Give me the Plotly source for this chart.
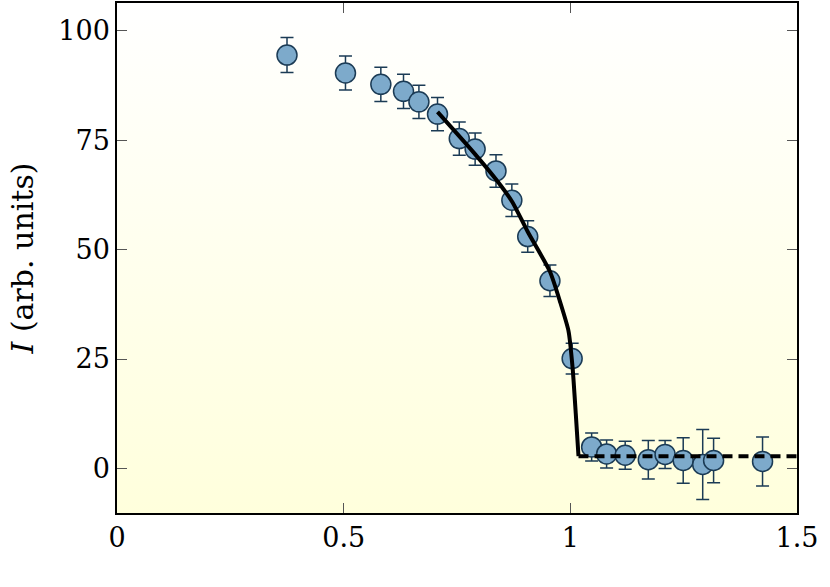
import plotly.graph_objects as go

# measured points
x_data = [0.375, 0.504, 0.582, 0.632, 0.666, 0.707, 0.755, 0.790, 0.836, 0.871,
          0.906, 0.955, 1.004, 1.047, 1.080, 1.121, 1.172, 1.209, 1.249, 1.292,
          1.316, 1.424]
y_data = [94.5, 90.4, 87.8, 86.2, 83.8, 81.0, 75.4, 73.0, 68.0, 61.3,
          53.0, 42.9, 25.1, 4.9, 3.3, 3.0, 2.0, 3.2, 1.8, 0.9,
          1.8, 1.6]
y_err = [4.0, 3.9, 3.9, 3.9, 3.8, 3.8, 3.8, 3.7, 3.7, 3.7,
         3.6, 3.6, 3.5, 3.2, 3.2, 3.2, 4.4, 3.2, 5.2, 8.0,
         5.1, 5.6]

# fit curve (below transition) and background level (above)
x_fit = [0.707, 0.786, 0.838, 0.872, 0.906, 0.955, 0.977, 0.996, 1.005, 1.012, 1.018]
y_fit = [81.5, 72.3, 65.8, 60.9, 54.1, 45.0, 38.2, 31.4, 23.0, 12.5, 2.8]
x_bg = [1.018, 1.5]
y_bg = [2.8, 2.8]

x_range = [0, 1.5]
y_range = [-10.2, 106.4]

fig = go.Figure()

# gradient panel background
fig.add_trace(go.Scatter(
    x=[x_range[0], x_range[1], x_range[1], x_range[0], x_range[0]],
    y=[y_range[0], y_range[0], y_range[1], y_range[1], y_range[0]],
    mode="lines", line=dict(width=0), fill="toself",
    fillgradient=dict(type="vertical",
                      colorscale=[[0, "#FFFFDC"], [1, "#FFFFFF"]]),
    hoverinfo="skip", showlegend=False,
))

fig.add_trace(go.Scatter(
    x=x_data, y=y_data, mode="markers",
    error_y=dict(type="data", array=y_err, color="#1B3B55", thickness=1.5, width=6.5),
    marker=dict(size=20, color="#7DAACB", line=dict(color="#1B3B55", width=1.5)),
    showlegend=False,
))

fig.add_trace(go.Scatter(
    x=x_fit, y=y_fit, mode="lines",
    line=dict(color="black", width=4, shape="spline", smoothing=0.6),
    showlegend=False,
))
fig.add_trace(go.Scatter(
    x=x_bg, y=y_bg, mode="lines",
    line=dict(color="black", width=4, dash="10px,6px"),
    showlegend=False,
))

axis_style = dict(
    showline=True, linecolor="black", linewidth=1.5, mirror="ticks",
    ticks="inside", ticklen=10, tickcolor="#555555", tickwidth=1,
    showgrid=False, zeroline=False,
    tickfont=dict(family="DejaVu Serif", size=27, color="black"),
)

fig.update_xaxes(axis_style, range=x_range, tickvals=[0, 0.5, 1, 1.5],
                 ticktext=["0", "0.5", "1", "1.5"])
fig.update_yaxes(axis_style, range=y_range, tickvals=[0, 25, 50, 75, 100],
                 title=dict(text="<i>I</i> (arb. units)", standoff=16,
                            font=dict(family="DejaVu Serif", size=30, color="black")))

fig.update_layout(
    width=830, height=587,
    margin=dict(l=117, r=33, t=1, b=74),
    paper_bgcolor="white", plot_bgcolor="white",
)

fig.write_html("out.html", config={"displayModeBar": False},
               post_script="document.body.style.margin = '0';")
